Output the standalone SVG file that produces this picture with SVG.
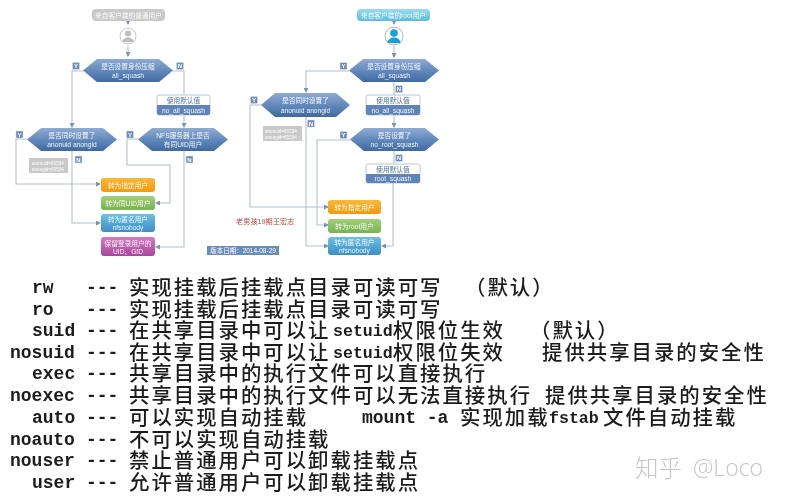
<svg xmlns="http://www.w3.org/2000/svg" width="785" height="500" viewBox="0 0 785 500">
<style>
text{font-family:"Liberation Sans","Noto Sans CJK SC",sans-serif}
.t{font-size:6.7px;fill:#fff;text-anchor:middle;opacity:.92}
.d{font-size:6.7px;fill:#4f74a6;text-anchor:middle}
.yn{fill:#6f8cb3;stroke:#dfe6f0;stroke-width:.5}
.ynt{font-size:6px;fill:#fff;text-anchor:middle;font-weight:bold}
.n{font-size:4.6px;fill:#fff;text-anchor:start}
.c{fill:none;stroke:#b4c0cc;stroke-width:1.1}
.hex{fill:url(#gHex)}
.m{font-family:"Liberation Mono","Noto Sans CJK SC",monospace;font-size:18px;font-weight:bold;fill:#1c1c1c;white-space:pre}
.s{font-size:16.6px}
.z{font-family:"Noto Sans CJK SC","Liberation Sans",sans-serif;font-size:20.4px;letter-spacing:2px;fill:#1c1c1c;font-weight:500}
</style>
<defs>
<linearGradient id="gHex" x1="0" y1="0" x2="0" y2="1"><stop offset="0" stop-color="#8fabd2"/><stop offset=".55" stop-color="#5f86ba"/><stop offset="1" stop-color="#3f6a9f"/></linearGradient>
<linearGradient id="gO" x1="0" y1="0" x2="0" y2="1"><stop offset="0" stop-color="#fbb836"/><stop offset="1" stop-color="#f09a12"/></linearGradient>
<linearGradient id="gG" x1="0" y1="0" x2="0" y2="1"><stop offset="0" stop-color="#a3d07a"/><stop offset="1" stop-color="#76b34e"/></linearGradient>
<linearGradient id="gB" x1="0" y1="0" x2="0" y2="1"><stop offset="0" stop-color="#6dbfe6"/><stop offset="1" stop-color="#3b8fc4"/></linearGradient>
<linearGradient id="gP" x1="0" y1="0" x2="0" y2="1"><stop offset="0" stop-color="#d27cc0"/><stop offset="1" stop-color="#a8479c"/></linearGradient>
<linearGradient id="gC" x1="0" y1="0" x2="0" y2="1"><stop offset="0" stop-color="#9adcee"/><stop offset="1" stop-color="#58bcdc"/></linearGradient>
<marker id="a" markerWidth="5" markerHeight="5" refX="4" refY="2.5" orient="auto" markerUnits="userSpaceOnUse"><path d="M0 0L5 2.5L0 5z" fill="#7c93ae"/></marker>
<filter id="b" x="-2%" y="-2%" width="104%" height="104%"><feGaussianBlur stdDeviation="0.45"/></filter>
<filter id="b2" x="-2%" y="-2%" width="104%" height="104%"><feGaussianBlur stdDeviation="0.3"/></filter>
</defs>
<rect width="785" height="500" fill="#fff"/>
<g filter="url(#b)">
<g id="connectors">
<path class="c" d="M128 21V24" marker-end="url(#a)"/>
<path class="c" d="M128 46V56" marker-end="url(#a)"/>
<path class="c" d="M83 71H72V127" marker-end="url(#a)"/>
<path class="c" d="M173 71H184V127" marker-end="url(#a)"/>
<path class="c" d="M27 139H16V184H100" marker-end="url(#a)"/>
<path class="c" d="M72 151V223H100" marker-end="url(#a)"/>
<path class="c" d="M138 139H127V165H170V203H156" marker-end="url(#a)"/>
<path class="c" d="M184 151V247H156" marker-end="url(#a)"/>
<path class="c" d="M394 21V24" marker-end="url(#a)"/>
<path class="c" d="M394 46V57" marker-end="url(#a)"/>
<path class="c" d="M349 71H306V92" marker-end="url(#a)"/>
<path class="c" d="M394 82V127" marker-end="url(#a)"/>
<path class="c" d="M261 105H250V207H328" marker-end="url(#a)"/>
<path class="c" d="M306 117V246H328" marker-end="url(#a)"/>
<path class="c" d="M350 140H317V225H328" marker-end="url(#a)"/>
<path class="c" d="M394 151V164"/>
<path class="c" d="M393 183V246H382" marker-end="url(#a)"/>
</g>
<g id="l-source"><rect x="92" y="9" width="73" height="12" rx="4" fill="#c9c9c9"/><text class="t" x="128.500" y="17.500">来自客户端的普通用户</text></g>
<g id="l-user"><circle cx="128" cy="36" r="8" fill="#fff" stroke="#c4c4c4"/><circle cx="128" cy="33.500" r="3" fill="#bdbdbd"/><path d="M122.500 42c0-6 11-6 11 0z" fill="#bdbdbd"/></g>
<g id="l-q1"><path class="hex" d="M83 70.500L97 59H159L173 70.500L159 82H97z"/><text class="t" x="128" y="69">是否设置身份压缩</text><text class="t" x="128" y="78">all_squash</text></g>
<g id="l-no-all"><rect x="157" y="95" width="53" height="20" rx="2" fill="#fff" stroke="#b9c6d8"/><path d="M157 105H210V113a2 2 0 0 1-2 2H159a2 2 0 0 1-2-2z" fill="#5f84b6"/><text class="d" x="183.500" y="102.800">使用默认值</text><text class="t" x="183.500" y="112.500">no_all_squash</text></g>
<g id="l-q2"><path class="hex" d="M27 139.500L41 128H103L117 139.500L103 151H41z"/><text class="t" x="72" y="137.500">是否同时设置了</text><text class="t" x="72" y="147">anonuid  anongid</text></g>
<g id="l-q3"><path class="hex" d="M138 139.500L152 128H214L228 139.500L214 151H152z"/><text class="t" x="183" y="137.500">NFS服务器上是否</text><text class="t" x="183" y="147">有同UID用户</text></g>
<g id="l-note"><rect x="29" y="158" width="39" height="15" fill="#c9c9c9"/><text class="n" x="32" y="164.500">anonuid=65534</text><text class="n" x="32" y="171">anongid=65534</text></g>
<g id="l-r1"><rect x="101" y="178" width="54" height="14" rx="3" fill="url(#gO)"/><text class="t" x="128" y="187.500">转为指定用户</text></g>
<g id="l-r2"><rect x="101" y="196" width="54" height="14" rx="3" fill="url(#gG)"/><text class="t" x="128" y="205.500">转为同UID用户</text></g>
<g id="l-r3"><rect x="101" y="214" width="54" height="18" rx="3" fill="url(#gB)"/><text class="t" x="128" y="222">转为匿名用户</text><text class="t" x="128" y="230">nfsnobody</text></g>
<g id="l-r4"><rect x="101" y="237" width="54" height="19" rx="3" fill="url(#gP)"/><text class="t" x="128" y="245.500">保留登录用户的</text><text class="t" x="128" y="254">UID、GID</text></g>
<g id="r-source"><rect x="357" y="9" width="73" height="12" rx="4" fill="url(#gC)"/><text class="t" x="393.500" y="17.500">来自客户端的root用户</text></g>
<g id="r-user"><circle cx="394" cy="36" r="9" fill="#fff" stroke="#9fb8c8"/><circle cx="394" cy="33" r="3.800" fill="#1f9fd8"/><path d="M387.500 43c0-7.500 13-7.500 13 0z" fill="#1f9fd8"/></g>
<g id="r-q1"><path class="hex" d="M349 70.500L363 59H425L439 70.500L425 82H363z"/><text class="t" x="394" y="69">是否设置身份压缩</text><text class="t" x="394" y="78">all_squash</text></g>
<g id="r-no-all"><rect x="366" y="95" width="54" height="20" rx="2" fill="#fff" stroke="#b9c6d8"/><path d="M366 105H420V113a2 2 0 0 1-2 2H368a2 2 0 0 1-2-2z" fill="#5f84b6"/><text class="d" x="393" y="102.800">使用默认值</text><text class="t" x="393" y="112.500">no_all_squash</text></g>
<g id="r-q2"><path class="hex" d="M261 105L275 93H336L350 105L336 117H275z"/><text class="t" x="305.500" y="103">是否同时设置了</text><text class="t" x="305.500" y="113">anonuid  anongid</text></g>
<g id="r-q3"><path class="hex" d="M350 139.500L364 128H425L439 139.500L425 151H364z"/><text class="t" x="394.500" y="137.500">是否设置了</text><text class="t" x="394.500" y="147">no_root_squash</text></g>
<g id="r-note"><rect x="263" y="126" width="39" height="15" fill="#c9c9c9"/><text class="n" x="265" y="132.500">anonuid=65534</text><text class="n" x="265" y="139">anongid=65534</text></g>
<g id="r-root"><rect x="366" y="164" width="54" height="19" rx="2" fill="#fff" stroke="#b9c6d8"/><path d="M366 174H420V181a2 2 0 0 1-2 2H368a2 2 0 0 1-2-2z" fill="#5f84b6"/><text class="d" x="393" y="171.800">使用默认值</text><text class="t" x="393" y="181">root_squash</text></g>
<g id="r-r1"><rect x="328" y="200" width="53" height="14" rx="3" fill="url(#gO)"/><text class="t" x="354.500" y="209.500">转为指定用户</text></g>
<g id="r-r2"><rect x="328" y="219" width="53" height="14" rx="3" fill="url(#gG)"/><text class="t" x="354.500" y="228.500">转为root用户</text></g>
<g id="r-r3"><rect x="328" y="237" width="53" height="18" rx="3" fill="url(#gB)"/><text class="t" x="354.500" y="245">转为匿名用户</text><text class="t" x="354.500" y="253">nfsnobody</text></g>
<g id="badges">
<rect class="yn" x="72.500" y="62.500" width="7" height="7"/><text class="ynt" x="76" y="68.200">Y</text>
<rect class="yn" x="176.500" y="62.500" width="7" height="7"/><text class="ynt" x="180" y="68.200">N</text>
<rect class="yn" x="16" y="131" width="7" height="7"/><text class="ynt" x="19.500" y="136.700">Y</text>
<rect class="yn" x="75" y="156" width="7" height="7"/><text class="ynt" x="78.500" y="161.700">N</text>
<rect class="yn" x="126.500" y="131" width="7" height="7"/><text class="ynt" x="130" y="136.700">Y</text>
<rect class="yn" x="186" y="156" width="7" height="7"/><text class="ynt" x="189.500" y="161.700">N</text>
<rect class="yn" x="340" y="62.500" width="7" height="7"/><text class="ynt" x="343.500" y="68.200">Y</text>
<rect class="yn" x="395.500" y="85.500" width="7" height="7"/><text class="ynt" x="399" y="91.200">N</text>
<rect class="yn" x="250.500" y="96.500" width="7" height="7"/><text class="ynt" x="254" y="102.200">Y</text>
<rect class="yn" x="307.500" y="120" width="7" height="7"/><text class="ynt" x="311" y="125.700">N</text>
<rect class="yn" x="340" y="131.500" width="7" height="7"/><text class="ynt" x="343.500" y="137.200">Y</text>
<rect class="yn" x="395.500" y="154.500" width="7" height="7"/><text class="ynt" x="399" y="160.200">N</text>
</g>
<text x="236" y="224" font-size="7.200" fill="#b5473f">老男孩19期王宏志</text>
<rect x="207" y="246" width="72" height="9" fill="#6a8cb8"/>
<text x="243" y="253" font-size="6.500" fill="#fff" text-anchor="middle">版本日期：2014-08-29</text>
</g>
<g id="options" filter="url(#b2)">
<text class="m" x="32" y="293">rw</text><text class="m" x="86" y="293">---</text><text class="z" x="129" y="295">实现挂载后挂载点目录可读可写</text><text class="z" x="465" y="295">（默认）</text>
<text class="m" x="32" y="315">ro</text><text class="m" x="86" y="315">---</text><text class="z" x="129" y="317">实现挂载后挂载点目录可读可写</text>
<text class="m" x="32" y="336">suid</text><text class="m" x="86" y="336">---</text><text class="z" x="129" y="338">在共享目录中可以让</text><text class="m s" x="333" y="336">setuid</text><text class="z" x="393" y="338">权限位生效</text><text class="z" x="530" y="338">（默认）</text>
<text class="m" x="10" y="358">nosuid</text><text class="m" x="86" y="358">---</text><text class="z" x="129" y="360">在共享目录中可以让</text><text class="m s" x="333" y="358">setuid</text><text class="z" x="393" y="360">权限位失效</text><text class="z" x="542" y="360">提供共享目录的安全性</text>
<text class="m" x="32" y="379">exec</text><text class="m" x="86" y="379">---</text><text class="z" x="129" y="381">共享目录中的执行文件可以直接执行</text>
<text class="m" x="10" y="401">noexec</text><text class="m" x="86" y="401">---</text><text class="z" x="129" y="403">共享目录中的执行文件可以无法直接执行</text><text class="z" x="545" y="403">提供共享目录的安全性</text>
<text class="m" x="32" y="423">auto</text><text class="m" x="86" y="423">---</text><text class="z" x="129" y="425">可以实现自动挂载</text><text class="m" x="362" y="423">mount -a</text><text class="z" x="460" y="425">实现加载</text><text class="m s" x="549" y="423">fstab</text><text class="z" x="603" y="425">文件自动挂载</text>
<text class="m" x="10" y="445">noauto</text><text class="m" x="86" y="445">---</text><text class="z" x="129" y="447">不可以实现自动挂载</text>
<text class="m" x="10" y="466">nouser</text><text class="m" x="86" y="466">---</text><text class="z" x="129" y="468">禁止普通用户可以卸载挂载点</text>
<text class="m" x="32" y="488">user</text><text class="m" x="86" y="488">---</text><text class="z" x="129" y="490">允许普通用户可以卸载挂载点</text>
</g>
<g id="watermark" filter="url(#b2)">
<text x="635" y="477" font-size="23.500" fill="#c6c6c6" style="font-family:'Noto Sans CJK SC',sans-serif;font-weight:300">知乎</text>
<text x="693" y="476" font-size="23" fill="#c6c6c6" style="font-family:'Open Sans',sans-serif;font-weight:300">@Loco</text>
</g>
</svg>
